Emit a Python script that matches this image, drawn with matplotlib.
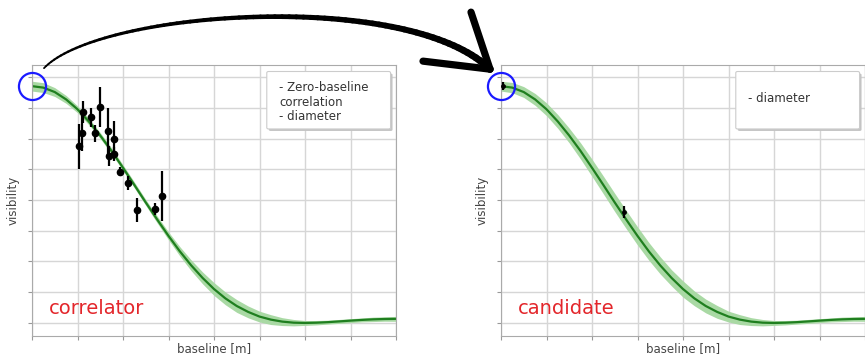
import numpy as np
import matplotlib
matplotlib.use('Agg')
import matplotlib.pyplot as plt
from matplotlib.patches import FancyBboxPatch
from matplotlib.collections import LineCollection
from matplotlib.lines import Line2D

# model curve, sampled every 1.25 m
baseline = np.linspace(0, 40, 33)
visibility = [0.963, 0.957, 0.939, 0.909, 0.869, 0.819, 0.762, 0.699, 0.631,
              0.561, 0.490, 0.421, 0.354, 0.291, 0.234, 0.183, 0.138, 0.100,
              0.069, 0.045, 0.026, 0.0136, 0.0055, 0.0012, 0.0, 0.0011, 0.0033,
              0.0063, 0.0095, 0.0124, 0.0147, 0.0161, 0.0167]

# half-width of the uncertainty band for each fit
band_correlator = [0.020, 0.020, 0.018, 0.016, 0.014, 0.013, 0.012, 0.012, 0.012,
                   0.012, 0.012, 0.014, 0.016, 0.019, 0.022, 0.024, 0.026, 0.026,
                   0.026, 0.024, 0.022, 0.020, 0.016, 0.013, 0.010, 0.009, 0.008,
                   0.008, 0.008, 0.008, 0.009, 0.009, 0.010]
band_candidate = [0.020, 0.021, 0.022, 0.024, 0.026, 0.028, 0.030, 0.033, 0.035,
                  0.036, 0.037, 0.037, 0.037, 0.036, 0.035, 0.033, 0.033, 0.030,
                  0.028, 0.026, 0.022, 0.020, 0.016, 0.013, 0.010, 0.009, 0.008,
                  0.008, 0.008, 0.008, 0.009, 0.009, 0.010]

# correlator measurements
corr_x = [5.11, 5.44, 5.57, 6.48, 6.92, 7.47, 8.32, 8.46, 9.01, 9.04, 9.67,
          10.58, 11.57, 13.52, 14.32]
corr_y = [0.719, 0.774, 0.857, 0.836, 0.771, 0.877, 0.780, 0.679, 0.747, 0.687,
          0.615, 0.570, 0.459, 0.462, 0.516]
corr_err = [0.092, 0.075, 0.045, 0.040, 0.034, 0.081, 0.095, 0.040, 0.075, 0.030,
            0.018, 0.028, 0.048, 0.024, 0.100]

# candidate measurements
cand_x = [0.2, 13.55]
cand_y = [0.963, 0.451]
cand_err = [0.015, 0.024]

W, H = 865, 357
fig = plt.figure(figsize=(W / 100, H / 100), dpi=100)
ax1 = fig.add_axes([32 / W, 21 / H, 364 / W, 271 / H])
ax2 = fig.add_axes([501 / W, 21 / H, 364 / W, 271 / H])

panels = [
    (ax1, band_correlator, 'correlator', ['- Zero-baseline', 'correlation', '- diameter'],
     corr_x, corr_y, corr_err),
    (ax2, band_candidate, 'candidate', ['- diameter'], cand_x, cand_y, cand_err),
]

vis = np.array(visibility)
for ax, band, name, notes, mx, my, me in panels:
    band = np.array(band)
    ax.fill_between(baseline, vis - band, vis + band, color='#a9d9a4', lw=0, zorder=1)
    ax.plot(baseline, vis, color='#1f7f1f', lw=1.6, zorder=2)
    big = name == 'correlator'
    ax.errorbar(mx, my, yerr=me, fmt='o', color='black', ms=4.5 if big else 2.5,
                elinewidth=1.6, capsize=0, zorder=3)

    ax.set_xlim(0, 40)
    ax.set_ylim(-0.053, 1.049)
    ax.set_xticks(np.arange(0, 41, 5))
    ax.set_yticks(np.arange(0, 1.01, 0.125))
    ax.grid(True, color='#d6d6d6', lw=1)
    ax.set_axisbelow(True)
    ax.tick_params(length=3, color='#999999', labelbottom=False, labelleft=False)
    for sp in ax.spines.values():
        sp.set_color('#aaaaaa')
    ax.set_xlabel('baseline [m]', fontsize=8.5, color='#444444', labelpad=1)
    ax.set_ylabel('visibility', fontsize=8.5, color='#444444', labelpad=6)

    ax.text(0.045, 0.10, name, transform=ax.transAxes, color='#e3262b',
            fontsize=14, va='center', ha='left')

    # note box with a soft shadow
    x0, y0, bw, bh = 0.645, 0.764, 0.340, 0.212
    dx, dy = 2 / 364, -2 / 271
    ax.add_patch(FancyBboxPatch((x0 + dx, y0 + dy), bw, bh, transform=ax.transAxes,
                                boxstyle='round,pad=0,rounding_size=0.005',
                                fc='#c4c4c4', ec='none', zorder=4))
    ax.add_patch(FancyBboxPatch((x0, y0), bw, bh, transform=ax.transAxes,
                                boxstyle='round,pad=0,rounding_size=0.005',
                                fc='white', ec='#cccccc', lw=0.8, zorder=5))
    if len(notes) > 1:
        ax.text(0.679, 0.94, '\n'.join(notes), transform=ax.transAxes, fontsize=8.5,
                color='#333333', va='top', ha='left', linespacing=1.15, zorder=6)
    else:
        ax.text(0.679, 0.875, notes[0], transform=ax.transAxes, fontsize=8.5,
                color='#333333', va='center', ha='left', zorder=6)

    # blue ring around the zero-baseline value
    ax.plot([0], [vis[0]], 'o', ms=19.5, mfc='none', mec='#1a1aff', mew=1.6,
            clip_on=False, zorder=7)

# curved arrow from the left ring to the right ring
c1 = ax1.transData.transform((0, vis[0]))
c2 = ax2.transData.transform((0, vis[0]))
p0 = c1 + np.array([12, 18])
p3 = c2 + np.array([-11, 17])
p1 = p0 + np.array([55, 58])
p2 = p3 + np.array([-82, 80])
t = np.linspace(0, 1, 80)[:, None]
pts = ((1 - t) ** 3) * p0 + 3 * ((1 - t) ** 2) * t * p1 + 3 * (1 - t) * t ** 2 * p2 + t ** 3 * p3
pts = fig.transFigure.inverted().transform(pts)
segs = np.stack([pts[:-1], pts[1:]], axis=1)
lc = LineCollection(segs, linewidths=np.linspace(1.3, 5.2, len(segs)), colors='black',
                    capstyle='round', transform=fig.transFigure)
fig.add_artist(lc)

for off in ([-67, 8], [-19, 57]):
    a, b = fig.transFigure.inverted().transform([p3 + np.array(off), p3])
    fig.add_artist(Line2D([a[0], b[0]], [a[1], b[1]], color='black', lw=5.2,
                          solid_capstyle='round', transform=fig.transFigure))

fig.savefig('out.png', dpi=100, facecolor='white')
